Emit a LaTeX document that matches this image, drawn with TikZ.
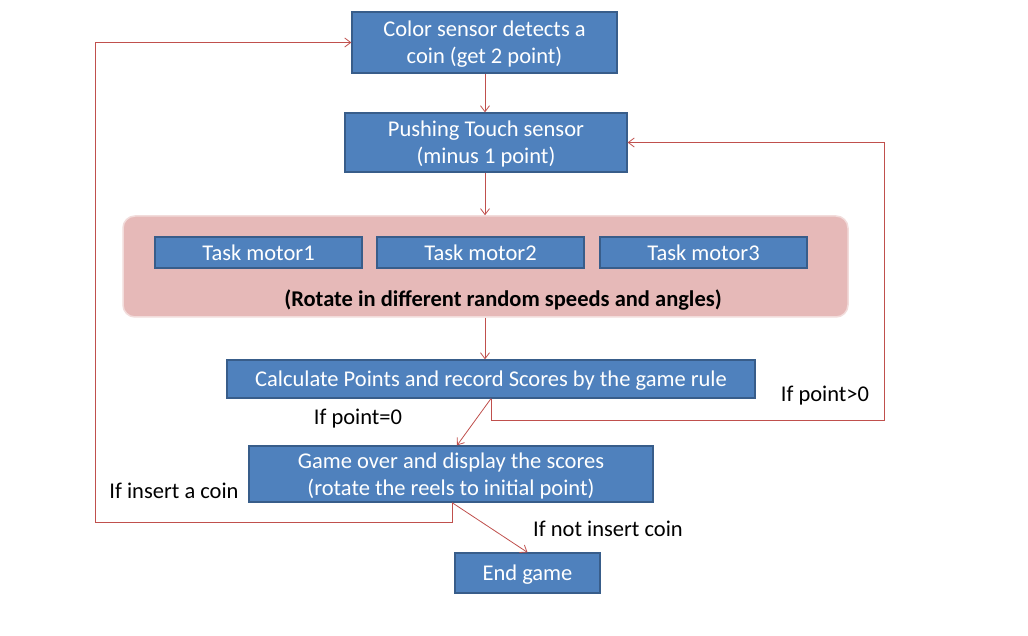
\documentclass[tikz,border=0pt]{standalone}
\usepackage{fontspec}
\setmainfont{Carlito}
\usetikzlibrary{arrows.meta}
\definecolor{boxblue}{HTML}{4F81BD}
\definecolor{boxedge}{HTML}{385D8A}
\definecolor{linered}{HTML}{C0504D}
\definecolor{pinkfill}{HTML}{E6B9B8}
\definecolor{pinkedge}{HTML}{F2DCDB}
\newcommand{\lowtxt}[1]{\raisebox{-2.5pt}[\height][\depth]{\begin{tabular}{@{}c@{}}#1\end{tabular}}}
\begin{document}
\begin{tikzpicture}[x=1pt,y=-1pt,
  bluebox/.style={draw=boxedge,line width=1.2pt,fill=boxblue,text=white,inner sep=0pt,
    font=\fontsize{22.5}{27}\selectfont},
  conn/.style={draw=linered,line width=0.8pt,-{Straight Barb[length=6pt,width=9pt]}},
  lbl/.style={font=\fontsize{22.5}{27}\selectfont,text=black,inner sep=0pt}]
\useasboundingbox (0,0) rectangle (1028,636);
\fill[white] (0,0) rectangle (1028,636);
% pink container
\node[draw=pinkedge,line width=1.5pt,fill=pinkfill,rounded corners=12pt,minimum width=725pt,minimum height=101pt,inner sep=0pt] (grp) at (485.5,266.5) {};
\node[bluebox,minimum width=265pt,minimum height=61pt] (color) at (484.5,42.5) {\lowtxt{Color sensor detects a\\coin (get 2 point)}};
\node[bluebox,minimum width=282pt,minimum height=59pt] (push) at (486,142.5) {\lowtxt{Pushing Touch sensor\\(minus 1 point)}};
\node[bluebox,minimum width=207pt,minimum height=31pt] (m1) at (258.5,252.5) {\lowtxt{Task motor1}};
\node[bluebox,minimum width=207pt,minimum height=31pt] (m2) at (480.5,252.5) {\lowtxt{Task motor2}};
\node[bluebox,minimum width=207pt,minimum height=31pt] (m3) at (703.5,252.5) {\lowtxt{Task motor3}};
\node[lbl,font=\fontsize{22.5}{27}\selectfont\bfseries] (rot) at (503,300.5) {(Rotate in different random speeds and angles)};
\node[bluebox,minimum width=528pt,minimum height=38pt] (calc) at (491,379) {\lowtxt{Calculate Points and record Scores by the game rule}};
\node[bluebox,minimum width=404pt,minimum height=56pt] (over) at (451,474) {\lowtxt{Game over and display the scores\\(rotate the reels to initial point)}};
\node[bluebox,minimum width=145pt,minimum height=40pt] (endg) at (527.5,573) {\lowtxt{End game}};
% labels
\node[lbl] (l0) at (358,419) {If point=0};
\node[lbl] (lp) at (825,396) {If point>0};
\node[lbl] (li) at (174,491) {If insert a coin};
\node[lbl] (ln) at (608,529) {If not insert coin};
% connectors
\draw[conn] (color.south -| 485,0) -- (push.north -| 485,0);
\draw[conn] (push.south -| 485,0) -- (grp.north -| 485,0);
\draw[conn] (grp.south -| 485,0) -- (calc.north -| 485,0);
\coordinate (cb) at (calc.south -| 491,0);
\coordinate (ob) at (over.south -| 452,0);
\draw[conn] (cb) -- (over.north -| 457,0);
\draw[conn] (cb) -- (491,420) -- (884,420) -- (884,142.5) -- (push.east);
\draw[conn] (ob) -- (452,522) -- (95,522) -- (95,42.5) -- (color.west);
\draw[conn] (ob) -- (endg.north);
\end{tikzpicture}
\end{document}
